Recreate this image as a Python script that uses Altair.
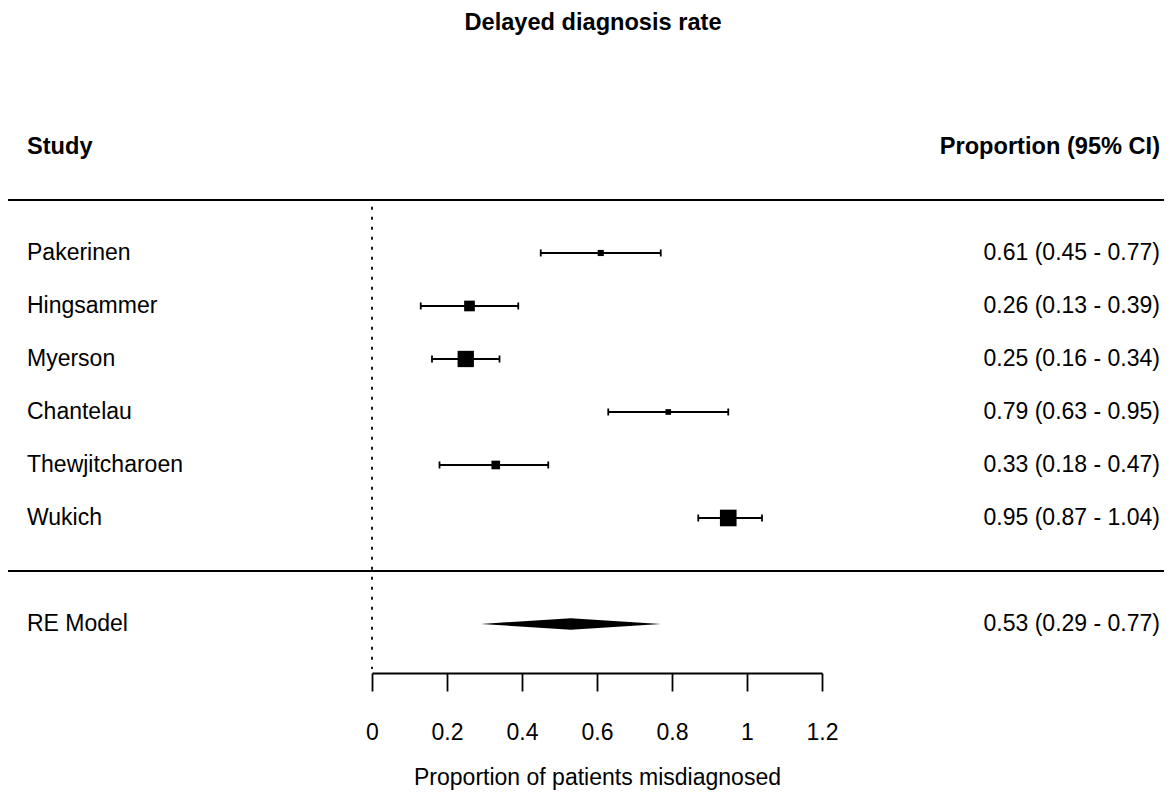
import altair as alt
import pandas as pd

# ---- data ----
studies = ["Pakerinen", "Hingsammer", "Myerson", "Chantelau", "Thewjitcharoen", "Wukich"]
est = [0.61, 0.26, 0.25, 0.79, 0.33, 0.95]
lo = [0.45, 0.13, 0.16, 0.63, 0.18, 0.87]
hi = [0.77, 0.39, 0.34, 0.95, 0.47, 1.04]
weight = [9.6, 16.7, 25.5, 8.8, 13.5, 26.0]   # relative weight (%) -> box size
re_label = "RE Model"
re_est, re_lo, re_hi = 0.53, 0.29, 0.77
x_ticks = [0, 0.2, 0.4, 0.6, 0.8, 1.0, 1.2]

title_text = "Delayed diagnosis rate"
left_header = "Study"
right_header = "Proportion (95% CI)"
x_title = "Proportion of patients misdiagnosed"

# ---- layout constants ----
FONT = "Liberation Sans"
FS = 23
FS_B = 23.6
LW = 1.8
W, H = 450, 553
YMIN, YMAX = -1.925, 8.509
PX_UNIT = H / (YMAX - YMIN)
LEFT_TXT = -345
RIGHT_TXT = 788
k = len(studies)

fmt = lambda e, l, h: f"{e:.2f} ({l:.2f} - {h:.2f})"

df = pd.DataFrame({
    "study": studies, "est": est, "lo": lo, "hi": hi, "weight": weight,
    "row": list(range(k, 0, -1)),
})
df["label"] = [fmt(e, l, h) for e, l, h in zip(est, lo, hi)]
caps_df = pd.DataFrame({"xv": lo + hi, "row": list(range(k, 0, -1)) * 2})

re_df = pd.DataFrame({"study": [re_label], "label": [fmt(re_est, re_lo, re_hi)], "row": [-1]})
half_h = 5.8 / PX_UNIT
dia_df = pd.DataFrame({
    "x": [re_lo, re_est, re_hi],
    "ylo": [-1, -1 - half_h, -1],
    "yhi": [-1, -1 + half_h, -1],
})
hl_df = pd.DataFrame({"y": [k + 1, 0]})
ref_df = pd.DataFrame({"x": [0], "y1": [k + 0.87], "y2": [-1.85]})
hdr_df = pd.DataFrame({"text": [left_header], "row": [k + 2]})
hdr_r_df = pd.DataFrame({"text": [right_header], "row": [k + 2]})
title_df = pd.DataFrame({"text": [title_text]})

x_scale = alt.Scale(domain=[0, 1.2], nice=False, zero=False)
y_scale = alt.Scale(domain=[YMIN, YMAX], nice=False, zero=False)
x_axis = alt.Axis(
    values=x_ticks, format="~g", grid=False,
    tickSize=18, tickWidth=LW, tickColor="black",
    domainColor="black", domainWidth=LW,
    labelFontSize=FS, labelColor="black", labelFont=FONT, labelBaseline="middle",
    labelPadding=41, labelFlush=False, labelOverlap=False,
    titleFontSize=FS, titleFont=FONT, titleFontWeight="normal", titleColor="black",
    titleBaseline="middle", titleY=104,
)


def X(field):
    return alt.X(field, type="quantitative", scale=x_scale, axis=x_axis, title=x_title)


def Y(field):
    return alt.Y(field, type="quantitative", scale=y_scale, axis=None)


def txt(data, align, bold=False):
    return alt.Chart(data).mark_text(align=align, baseline="middle", fontSize=FS_B if bold else FS,
                                     font=FONT, fontWeight="bold" if bold else "normal", color="black")


base = alt.Chart(df)

ci = base.mark_rule(color="black", strokeWidth=LW).encode(x=X("lo"), x2="hi", y=Y("row"))
caps = alt.Chart(caps_df).mark_rule(
    color="black", strokeWidth=LW, yOffset=-3.5, y2Offset=3.5
).encode(x=X("xv"), y=Y("row"), y2="row")
boxes = base.transform_calculate(area="pow(datum.weight * 0.64, 2)").mark_point(
    shape="square", filled=True, color="black", opacity=1
).encode(x=X("est"), y=Y("row"), size=alt.Size("area:Q", scale=None, legend=None))

names = txt(df, "left").encode(x=alt.value(LEFT_TXT), y=Y("row"), text="study:N")
vals = txt(df, "right").encode(x=alt.value(RIGHT_TXT), y=Y("row"), text="label:N")
re_names = txt(re_df, "left").encode(x=alt.value(LEFT_TXT), y=Y("row"), text="study:N")
re_vals = txt(re_df, "right").encode(x=alt.value(RIGHT_TXT), y=Y("row"), text="label:N")

diamond = alt.Chart(dia_df).mark_area(color="black", opacity=1, orient="vertical").encode(
    x=X("x"), y=Y("ylo"), y2="yhi")

hlines = alt.Chart(hl_df).mark_rule(color="black", strokeWidth=LW).encode(
    y=Y("y"), x=alt.value(-364), x2=alt.value(W + 342))

refline = alt.Chart(ref_df).mark_rule(color="black", strokeWidth=LW, strokeDash=[3, 7]).encode(
    x=X("x"), y=Y("y1"), y2="y2")

hdr_left = txt(hdr_df, "left", True).encode(x=alt.value(LEFT_TXT), y=Y("row"), text="text:N")
hdr_right = txt(hdr_r_df, "right", True).encode(x=alt.value(RIGHT_TXT), y=Y("row"), text="text:N")
title = txt(title_df, "center", True).encode(x=alt.value(221), y=alt.value(-97), text="text:N")

chart = alt.layer(
    hlines, refline, ci, caps, boxes, diamond, names, vals, re_names, re_vals, hdr_left, hdr_right, title
).properties(
    width=W, height=H,
    autosize=alt.AutoSizeParams(type="none"),
    padding={"left": 364, "top": 112, "right": 342, "bottom": 117},
).configure(font=FONT).configure_view(stroke=None)

chart.save("out.html", embed_options={"renderer": "svg", "actions": False})
